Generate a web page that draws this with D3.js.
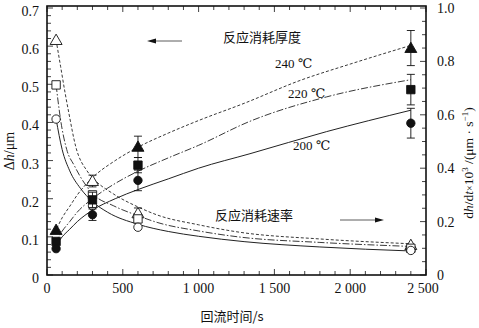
<!DOCTYPE html>
<html><head><meta charset="utf-8">
<script src="https://cdn.jsdelivr.net/npm/d3@7"></script>
<style>
body{margin:0;background:#fff;}
</style></head><body>
<svg id="c" width="479" height="328"></svg>
<script>
// ---- data ----
const times = [60, 300, 600, 2400];
const thick240 = [0.118, null, 0.336, 0.595];
const thick220 = [0.088, 0.197, 0.288, 0.486];
const thick200 = [0.069, 0.158, 0.248, 0.398];
const thickErr240 = [0, 0, 0.028, 0.046];
const thickErr220 = [0, 0.02, 0.02, 0.04];
const thickErr200 = [0, 0.015, 0.027, 0.039];
const rate240 = [0.88, 0.352, 0.231, 0.112];
const rate220 = [0.712, 0.30, 0.21, 0.10];
const rate200 = [0.584, 0.259, 0.179, 0.092];
const rateErr240 = [0, 0.022, 0.02, 0];
const rateErr220 = [0, 0, 0, 0];
const rateErr200 = [0, 0, 0, 0];
// fitted curves: [time, value]
const thickCurve240 = [[50,0.11],[60,0.118],[100,0.15],[150,0.18],[200,0.21],[300,0.255],[450,0.3],[600,0.335],[800,0.372],[1000,0.405],[1300,0.45],[1669,0.51],[2000,0.553],[2400,0.602]];
const thickCurve220 = [[50,0.085],[60,0.09],[100,0.115],[150,0.14],[200,0.165],[300,0.2],[450,0.24],[600,0.272],[800,0.307],[1000,0.34],[1339,0.403],[1845,0.467],[2400,0.512]];
const thickCurve200 = [[50,0.072],[60,0.078],[100,0.1],[150,0.12],[200,0.14],[300,0.17],[450,0.2],[600,0.224],[800,0.252],[1000,0.28],[1339,0.318],[1845,0.376],[2400,0.432]];
const rateCurve240 = [[60,0.88],[90,0.78],[120,0.68],[143,0.61],[190,0.48],[264,0.39],[308,0.36],[440,0.303],[600,0.255],[726,0.225],[1000,0.188],[1273,0.16],[1800,0.135],[2400,0.117]];
const rateCurve220 = [[60,0.712],[90,0.58],[130,0.47],[180,0.41],[218,0.37],[300,0.305],[440,0.259],[600,0.222],[726,0.197],[1000,0.165],[1273,0.142],[1800,0.122],[2400,0.107]];
const rateCurve200 = [[60,0.584],[100,0.47],[150,0.39],[220,0.325],[300,0.275],[400,0.235],[600,0.19],[800,0.163],[1000,0.145],[1300,0.125],[1800,0.105],[2400,0.09]];
const xTicks = [0, 500, 1000, 1500, 2000, 2500];
const xTickLabels = ["0", "500", "1 000", "1 500", "2 000", "2 500"];
const yLeftTicks = [0, 0.1, 0.2, 0.3, 0.4, 0.5, 0.6, 0.7];
const yLeftLabels = ["0", "0.1", "0.2", "0.3", "0.4", "0.5", "0.6", "0.7"];
const yRightTicks = [0, 0.2, 0.4, 0.6, 0.8, 1.0];
const yRightLabels = ["0", "0.2", "0.4", "0.6", "0.8", "1.0"];
const tempLabels = ["240 ℃", "220 ℃", "200 ℃"];

// ---- layout ----
const SERIF = "'Liberation Serif', 'DejaVu Serif', serif";
const CJK = "'Noto Sans CJK SC', sans-serif";
const L = 47, R = 426, T = 6, B = 275;
const svg = d3.select("#c");
const x = d3.scaleLinear().domain([0, 2500]).range([L, R]);
const yL = d3.scaleLinear().domain([0, 0.7]).range([B, T + 2]);
const yR = d3.scaleLinear().domain([0, 1.0]).range([B, T + 2]);
const ink = "#111";
const styles = [
  {dash: "3,2", w: 0.9},
  {dash: "7,2,1.5,2", w: 0.9},
  {dash: null, w: 1}
];
function txt(sel, fam) { return sel.append("text").attr("font-family", fam || SERIF).attr("fill", ink); }

// frame
svg.append("rect").attr("x", L).attr("y", T).attr("width", R - L).attr("height", B - T)
  .attr("fill", "none").attr("stroke", ink).attr("stroke-width", 1.6);

// x ticks (bottom and top, inward)
const xMinor = d3.range(0, 2501, 100);
const gx = svg.append("g");
xMinor.forEach(v => {
  const len = v % 500 === 0 ? 6 : 4;
  gx.append("line").attr("x1", x(v)).attr("x2", x(v)).attr("y1", B).attr("y2", B - len).attr("stroke", ink).attr("stroke-width", 0.8);
  gx.append("line").attr("x1", x(v)).attr("x2", x(v)).attr("y1", T).attr("y2", T + len).attr("stroke", ink).attr("stroke-width", 0.8);
});
xTicks.forEach((v, i) => {
  txt(gx).attr("x", x(v) - (i === xTicks.length - 1 ? 3 : 0)).attr("y", 293).attr("text-anchor", "middle")
    .attr("font-size", 14).text(xTickLabels[i]);
});

// left ticks
const gl = svg.append("g");
d3.range(0, 0.7001, 0.02).forEach(v => {
  const major = Math.abs(v * 10 - Math.round(v * 10)) < 1e-6;
  gl.append("line").attr("x1", L).attr("x2", L + (major ? 6 : 4)).attr("y1", yL(v)).attr("y2", yL(v)).attr("stroke", ink).attr("stroke-width", 0.8);
});
yLeftTicks.forEach((v, i) => {
  txt(gl).attr("x", 39).attr("y", yL(v) + 8).attr("text-anchor", "end").attr("font-size", 14).text(yLeftLabels[i]);
});

// right ticks
const gr = svg.append("g");
d3.range(0, 1.0001, 0.05).forEach(v => {
  const major = Math.abs(v * 5 - Math.round(v * 5)) < 1e-6;
  gr.append("line").attr("x1", R).attr("x2", R - (major ? 6 : 4)).attr("y1", yR(v)).attr("y2", yR(v)).attr("stroke", ink).attr("stroke-width", 0.8);
});
yRightTicks.forEach((v, i) => {
  txt(gr).attr("x", 437).attr("y", yR(v) + 5).attr("text-anchor", "start").attr("font-size", 14).text(yRightLabels[i]);
});

// axis titles
const lt = txt(svg).attr("transform", "translate(14,151) rotate(-90)").attr("text-anchor", "middle").attr("font-size", 14);
lt.append("tspan").text("Δ");
lt.append("tspan").attr("font-style", "italic").text("h");
lt.append("tspan").text("/μm");

const rt = txt(svg).attr("transform", "translate(473,163) rotate(-90)").attr("text-anchor", "middle").attr("font-size", 13.5);
rt.append("tspan").text("d");
rt.append("tspan").attr("font-style", "italic").text("h");
rt.append("tspan").text("/d");
rt.append("tspan").attr("font-style", "italic").text("t");
rt.append("tspan").attr("font-size", 10).text("×");
rt.append("tspan").text("10");
rt.append("tspan").attr("font-size", 9).attr("dy", -5).text("3");
rt.append("tspan").attr("dy", 5).text(" /(μm · s");
rt.append("tspan").attr("font-size", 9).attr("dy", -5).text("−1");
rt.append("tspan").attr("dy", 5).text(")");

txt(svg, CJK).attr("x", 232).attr("y", 321).attr("text-anchor", "middle").attr("font-size", 13)
  .text("回流时间/s");

// curves
const line = (ys) => d3.line().x(d => x(d[0])).y(d => ys(d[1])).curve(d3.curveMonotoneX);
const thickCurves = [thickCurve240, thickCurve220, thickCurve200];
const rateCurves = [rateCurve240, rateCurve220, rateCurve200];
thickCurves.forEach((c, i) => {
  svg.append("path").attr("d", line(yL)(c)).attr("fill", "none").attr("stroke", "#222")
    .attr("stroke-width", styles[i].w).attr("stroke-dasharray", styles[i].dash);
});
rateCurves.forEach((c, i) => {
  svg.append("path").attr("d", line(yR)(c)).attr("fill", "none").attr("stroke", "#222")
    .attr("stroke-width", styles[i].w).attr("stroke-dasharray", styles[i].dash);
});

// markers
const symTypes = [d3.symbolTriangle, d3.symbolSquare, d3.symbolCircle];
const symSizes = [62, 70, 55];
function drawSeries(vals, errs, ys, k, filled) {
  const g = svg.append("g");
  times.forEach((t, j) => {
    const v = vals[j];
    if (v == null) return;
    const e = errs[j];
    if (e > 0) {
      const x0 = x(t), y1 = ys(v - e), y2 = ys(v + e);
      g.append("line").attr("x1", x0).attr("x2", x0).attr("y1", y1).attr("y2", y2).attr("stroke", ink).attr("stroke-width", 0.9);
      [y1, y2].forEach(yy => g.append("line").attr("x1", x0 - 4).attr("x2", x0 + 4).attr("y1", yy).attr("y2", yy).attr("stroke", ink).attr("stroke-width", 0.9));
    }
  });
  times.forEach((t, j) => {
    const v = vals[j];
    if (v == null) return;
    g.append("path").attr("d", d3.symbol().type(symTypes[k]).size(symSizes[k])())
      .attr("transform", `translate(${x(t)},${ys(v) + (k === 0 ? 1 : 0)})`)
      .attr("fill", filled ? ink : "#fff").attr("stroke", ink).attr("stroke-width", 0.9);
  });
}
drawSeries(rate240, rateErr240, yR, 0, false);
drawSeries(rate220, rateErr220, yR, 1, false);
drawSeries(rate200, rateErr200, yR, 2, false);
drawSeries(thick240, thickErr240, yL, 0, true);
drawSeries(thick220, thickErr220, yL, 1, true);
drawSeries(thick200, thickErr200, yL, 2, true);

// annotations
txt(svg, CJK).attr("x", 223).attr("y", 42).attr("font-size", 13).text("反应消耗厚度");
txt(svg, CJK).attr("x", 215).attr("y", 220).attr("font-size", 13).text("反应消耗速率");
svg.append("line").attr("x1", 182).attr("x2", 153).attr("y1", 41).attr("y2", 41).attr("stroke", "#333").attr("stroke-width", 0.8);
svg.append("path").attr("d", "M147,41 L156,38.5 L156,43.5 Z").attr("fill", ink);
svg.append("line").attr("x1", 340).attr("x2", 378).attr("y1", 220).attr("y2", 220).attr("stroke", "#333").attr("stroke-width", 0.8);
svg.append("path").attr("d", "M384,220 L375,217.5 L375,222.5 Z").attr("fill", ink);
const tempPos = [[275, 68], [288, 98], [293, 150]];
tempLabels.forEach((s, i) => {
  txt(svg).attr("x", tempPos[i][0]).attr("y", tempPos[i][1]).attr("font-size", 13).text(s);
});
</script>
</body></html>
